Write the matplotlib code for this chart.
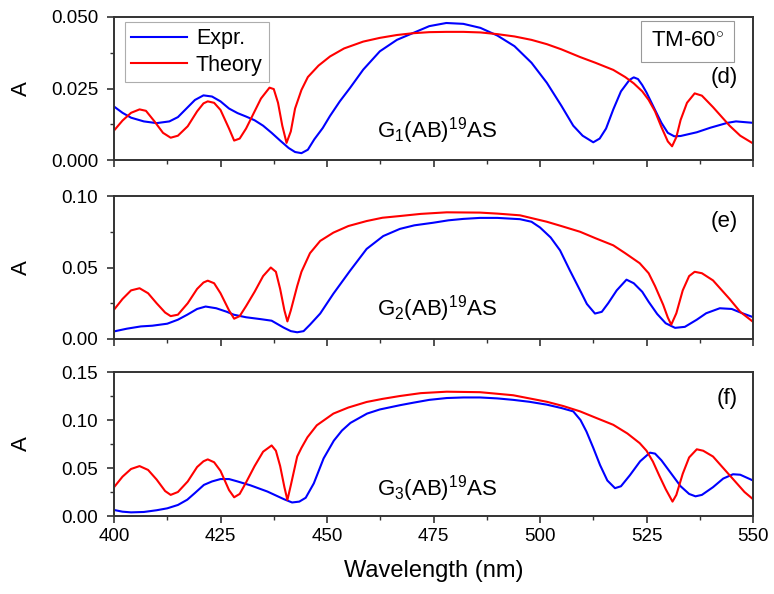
import matplotlib
matplotlib.use('Agg')
import matplotlib.pyplot as plt
from matplotlib.ticker import MultipleLocator, FormatStrFormatter

plt.rcParams['font.family'] = ['Liberation Sans', 'DejaVu Sans']
plt.rcParams['mathtext.fontset'] = 'custom'
plt.rcParams['mathtext.rm'] = 'Liberation Sans'
plt.rcParams['mathtext.it'] = 'Liberation Sans:italic'

# panel (d) G1
d_expr_x = [400, 402, 404, 407, 410, 413, 415, 417, 419, 421, 423, 425, 427, 429, 431, 433, 435, 437, 439, 441,
            442.5, 444, 445.5, 447, 449, 450.7, 453, 455.4, 458.5, 462.4, 466.4, 471, 474, 478, 482, 486, 490, 494,
            498, 501.6, 505, 507.8, 510, 512.5, 514, 515.5, 517.2, 519, 521, 522, 523, 524, 525, 527, 528.5, 530,
            531.5, 533, 536.8, 540, 544, 546, 550]
d_expr_y = [0.0187, 0.0165, 0.0148, 0.0135, 0.0129, 0.0135, 0.0150, 0.0180, 0.0210, 0.0226, 0.0222, 0.0205,
            0.0180, 0.0164, 0.0152, 0.0139, 0.0120, 0.0095, 0.0068, 0.0042, 0.0028, 0.0024, 0.0036, 0.0072,
            0.0112, 0.0154, 0.0205, 0.0252, 0.0316, 0.0380, 0.0420, 0.0449, 0.0468, 0.0479, 0.0476, 0.0462,
            0.0435, 0.0398, 0.0340, 0.0270, 0.0190, 0.0120, 0.0085, 0.0062, 0.0075, 0.0110, 0.0177, 0.0240,
            0.0280, 0.0289, 0.0283, 0.0262, 0.0236, 0.0175, 0.0130, 0.0095, 0.0083, 0.0084, 0.0097, 0.0113,
            0.0130, 0.0135, 0.0130]
d_theo_x = [400, 402, 404, 406, 407.5, 409.5, 411.5, 413.3, 415, 417.3, 419.5, 421, 422, 423.5, 425, 427, 428.2,
            429.5, 431, 432.5, 434.5, 436.5, 437.5, 438.5, 439.5, 440.5, 441.5, 442.5, 444, 445.5, 448, 450.7,
            454, 458.5, 462.4, 466.4, 470, 474, 478, 482, 486, 490, 494, 498, 501.6, 505, 509.4, 513, 517.2, 520,
            522, 524, 525.5, 527, 528.5, 530, 531, 532, 533, 534.5, 536.3, 538, 540.6, 544.5, 547, 550]
d_theo_y = [0.0103, 0.0138, 0.0165, 0.0177, 0.0172, 0.0135, 0.0095, 0.0078, 0.0085, 0.0118, 0.0170, 0.0198,
            0.0205, 0.0200, 0.0175, 0.0110, 0.0068, 0.0075, 0.0110, 0.0155, 0.0215, 0.0253, 0.0248, 0.0200,
            0.0120, 0.0060, 0.0100, 0.0180, 0.0245, 0.0290, 0.0330, 0.0362, 0.0390, 0.0414, 0.0427, 0.0437,
            0.0443, 0.0447, 0.0448, 0.0448, 0.0446, 0.0440, 0.0432, 0.0420, 0.0405, 0.0387, 0.0360, 0.0340,
            0.0315, 0.0290, 0.0268, 0.0240, 0.0210, 0.0170, 0.0115, 0.0065, 0.0048, 0.0080, 0.0140, 0.0200,
            0.0233, 0.0225, 0.0185, 0.0120, 0.0085, 0.0058]

# panel (e) G2
e_expr_x = [400, 403, 406.3, 409, 412.5, 415, 417.2, 419.5, 421.5, 424, 426.5, 428.1, 431, 434.4, 437, 439.8,
            441.5, 443, 444.5, 446, 448.4, 451.5, 455.4, 459.3, 463.2, 467.1, 470.5, 474.9, 478.5, 482, 485.9,
            490, 495.3, 498, 500, 502.5, 504.7, 507, 509.4, 511, 512.9, 514.5, 516, 518, 520.3, 522, 524, 525.5,
            527.5, 529.5, 531.7, 534, 536.8, 539, 542.2, 545, 547.5, 550]
e_expr_y = [0.0053, 0.0072, 0.0088, 0.0093, 0.0107, 0.0135, 0.0170, 0.0210, 0.0227, 0.0215, 0.0190, 0.0170,
            0.0152, 0.0139, 0.0128, 0.0080, 0.0055, 0.0047, 0.0055, 0.0100, 0.0178, 0.0317, 0.0477, 0.0630,
            0.0720, 0.0770, 0.0795, 0.0813, 0.0830, 0.0840, 0.0847, 0.0847, 0.0838, 0.0820, 0.0780, 0.0710,
            0.0620, 0.0480, 0.0340, 0.0245, 0.0178, 0.0190, 0.0250, 0.0340, 0.0415, 0.0390, 0.0330, 0.0260,
            0.0175, 0.0110, 0.0078, 0.0085, 0.0135, 0.0180, 0.0215, 0.0210, 0.0180, 0.0153]
e_theo_x = [400, 402, 404, 406, 408, 410, 412, 413.3, 415, 417.3, 419.5, 421, 422, 423.5, 425, 427, 428.2, 429.5,
            431, 433, 435, 436.8, 438, 439, 440, 440.7, 441.5, 443, 444, 446, 448.4, 451.5, 455, 459.3, 463,
            467.1, 472, 478.1, 485.9, 490, 495.3, 501.6, 505, 509.4, 513, 517.2, 520, 523.4, 525.5, 527, 528.9,
            530, 530.8, 532, 533.5, 535, 536.3, 538, 540.6, 544.5, 547, 550]
e_theo_y = [0.0205, 0.0280, 0.0340, 0.0355, 0.0320, 0.0250, 0.0185, 0.0160, 0.0170, 0.0250, 0.0350, 0.0395,
            0.0408, 0.0390, 0.0320, 0.0200, 0.0142, 0.0160, 0.0230, 0.0330, 0.0440, 0.0500, 0.0470, 0.0350,
            0.0200, 0.0123, 0.0200, 0.0370, 0.0470, 0.0600, 0.0686, 0.0744, 0.0790, 0.0825, 0.0848, 0.0860,
            0.0875, 0.0886, 0.0884, 0.0877, 0.0865, 0.0820, 0.0790, 0.0750, 0.0705, 0.0655, 0.0600, 0.0530,
            0.0460, 0.0370, 0.0240, 0.0150, 0.0100, 0.0180, 0.0340, 0.0440, 0.0470, 0.0460, 0.0410, 0.0280,
            0.0190, 0.0120]

# panel (f) G3
f_expr_x = [400, 402, 404, 407, 410, 412.5, 415, 417.2, 419, 421.1, 423, 425, 427, 429, 432, 436, 439.9, 441.8,
            443.5, 445, 446.9, 449.2, 451.6, 453.5, 455.5, 459.4, 462.4, 467.2, 470.2, 474, 478.1, 482, 485.9,
            490, 493.7, 497.5, 501.6, 505, 507.8, 509.5, 510.9, 512.5, 514.1, 515.8, 517.6, 519, 521.1, 523.5,
            525.8, 527, 528.5, 530.5, 533, 535, 536.5, 538, 540.6, 543, 545.3, 547, 549, 550]
f_expr_y = [0.0063, 0.0045, 0.0038, 0.0042, 0.0060, 0.0080, 0.0115, 0.0170, 0.0240, 0.0324, 0.0360, 0.0385,
            0.0385, 0.0360, 0.0320, 0.0255, 0.0175, 0.0141, 0.0150, 0.0190, 0.0340, 0.0600, 0.0785, 0.0890,
            0.0970, 0.1067, 0.1110, 0.1155, 0.1180, 0.1210, 0.1229, 0.1235, 0.1235, 0.1225, 0.1210, 0.1190,
            0.1160, 0.1125, 0.1090, 0.1000, 0.0880, 0.0710, 0.0530, 0.0370, 0.0290, 0.0310, 0.0425, 0.0570,
            0.0660, 0.0650, 0.0580, 0.0460, 0.0310, 0.0230, 0.0205, 0.0220, 0.0300, 0.0390, 0.0435, 0.0430,
            0.0390, 0.0370]
f_theo_x = [400, 402, 404, 406, 408, 410, 412, 413.3, 415, 417.3, 419.5, 421, 422, 423.5, 425, 427, 428.2, 429.5,
            431, 433, 435, 437, 438, 439, 440, 440.7, 441.5, 443, 444, 445.4, 447.6, 451.5, 455, 459.3, 463,
            467.1, 472, 478.1, 485.9, 493.7, 501.6, 505.5, 509.4, 513, 517.2, 520.5, 523.4, 525, 526.5, 528,
            529.5, 531.1, 532, 533.5, 535, 536.8, 538.3, 540.6, 543, 546, 548, 550]
f_theo_y = [0.0300, 0.0410, 0.0490, 0.0520, 0.0480, 0.0380, 0.0260, 0.0220, 0.0250, 0.0360, 0.0510, 0.0570,
            0.0590, 0.0560, 0.0470, 0.0270, 0.0195, 0.0230, 0.0350, 0.0520, 0.0670, 0.0735, 0.0680, 0.0520,
            0.0300, 0.0167, 0.0320, 0.0620, 0.0710, 0.0820, 0.0945, 0.1067, 0.1130, 0.1188, 0.1220, 0.1250,
            0.1280, 0.1295, 0.1290, 0.1258, 0.1190, 0.1145, 0.1090, 0.1025, 0.0950, 0.0860, 0.0759, 0.0680,
            0.0567, 0.0420, 0.0280, 0.0150, 0.0220, 0.0440, 0.0610, 0.0695, 0.0680, 0.0620, 0.0500, 0.0350,
            0.0250, 0.0175]

panels = [
    (d_expr_x, d_expr_y, d_theo_x, d_theo_y, 0.05, 0.025, 0.0125, '%.3f', '(d)', r'G$_1$(AB)$^{19}$AS', 0.0080, 0.0288),
    (e_expr_x, e_expr_y, e_theo_x, e_theo_y, 0.10, 0.05, 0.025, '%.2f', '(e)', r'G$_2$(AB)$^{19}$AS', 0.0164, 0.0824),
    (f_expr_x, f_expr_y, f_theo_x, f_theo_y, 0.15, 0.05, 0.025, '%.2f', '(f)', r'G$_3$(AB)$^{19}$AS', 0.0214, 0.122),
]
positions = [[0.1473, 0.7306, 0.8256, 0.2408],
             [0.1473, 0.4293, 0.8256, 0.2407],
             [0.1473, 0.1313, 0.8256, 0.2424]]

fig = plt.figure(figsize=(7.74, 5.94), dpi=100)
axes = []
for i, (ex, ey, tx, ty, ymax, major, minor, fmt, tag, label, ly, tagy) in enumerate(panels):
    ax = fig.add_axes(positions[i])
    axes.append(ax)
    ax.plot(ex, ey, color='#0000ff', lw=1.5, label='Expr.')
    ax.plot(tx, ty, color='#ff0000', lw=1.5, label='Theory')
    ax.set_xlim(400, 550)
    ax.set_ylim(0, ymax)
    ax.xaxis.set_major_locator(MultipleLocator(25))
    ax.xaxis.set_minor_locator(MultipleLocator(12.5))
    ax.yaxis.set_major_locator(MultipleLocator(major))
    ax.yaxis.set_minor_locator(MultipleLocator(minor))
    ax.yaxis.set_major_formatter(FormatStrFormatter(fmt))
    ax.tick_params(which='major', direction='out', length=5, width=1.2, labelsize=13.5, color='#333333')
    ax.tick_params(which='minor', direction='out', length=3, width=1.0, color='#333333')
    ax.tick_params(axis='y', which='major', pad=6.5)
    for s in ax.spines.values():
        s.set_linewidth(1.4)
        s.set_color('#333333')
    if i < 2:
        ax.tick_params(labelbottom=False)
    ax.set_ylabel('A', fontsize=16)
    ax.yaxis.set_label_coords(-0.128, 0.5)
    ax.text(461.7, ly, label, fontsize=16, ha='left', va='baseline')
    ax.text(546.5, tagy, tag, fontsize=16, ha='right', va='center')

leg = axes[0].legend(loc='upper left', bbox_to_anchor=(0.017, 0.965), fontsize=15.5, frameon=True, fancybox=False,
                     handlelength=2.6, handletextpad=0.4, borderpad=0.3, labelspacing=0.25, borderaxespad=0)
leg.get_frame().set_edgecolor('#999999')
leg.get_frame().set_linewidth(0.8)

axes[0].text(0.897, 0.83, r'TM-60$^{\circ}$', transform=axes[0].transAxes, fontsize=16, ha='center', va='center',
             bbox=dict(boxstyle='square,pad=0.45', facecolor='white', edgecolor='#999999', linewidth=0.8))

axes[2].set_xlabel('Wavelength (nm)', fontsize=17, labelpad=11)

fig.savefig('out.png', dpi=100)
